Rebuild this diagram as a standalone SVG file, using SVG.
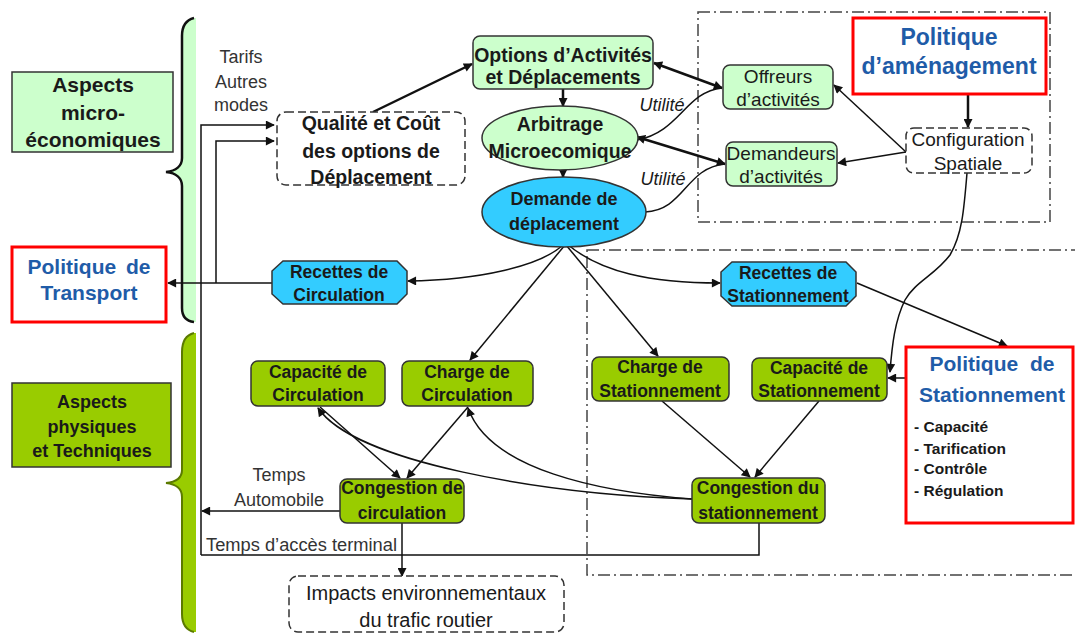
<svg xmlns="http://www.w3.org/2000/svg" width="1075" height="635" viewBox="0 0 1075 635">
<defs>
<marker id="ah" viewBox="0 0 10 10" refX="9" refY="5" markerUnits="userSpaceOnUse" markerWidth="10" markerHeight="9" orient="auto-start-reverse"><path d="M0,0 L10,5 L0,10 Z" fill="#111"/></marker>
</defs>
<style>
text{font-family:"Liberation Sans",Arial,sans-serif;fill:#1a1a1a}
.b{font-weight:bold}
.c{text-anchor:middle}
.lg{fill:#ccffcc;stroke:#333;stroke-width:1.5}
.gr{fill:#99cc00;stroke:#333;stroke-width:1.5}
.cy{fill:#33ccff;stroke:#333;stroke-width:1.5}
.red{fill:#fff;stroke:#ff0000;stroke-width:3}
.blue{fill:#1f5ca8}
.dash{fill:#fff;stroke:#333;stroke-width:1.5;stroke-dasharray:8 4}
.dd{fill:none;stroke:#444;stroke-width:1.5;stroke-dasharray:12 4 2 4}
.ln{fill:none;stroke:#111;stroke-width:1.5}
.tk{fill:none;stroke:#111;stroke-width:2.5}
.lbl{fill:#333}
</style>
<rect width="1075" height="635" fill="#fff"/>
<g id="frames">
<rect class="dd" x="698" y="12" width="352" height="210"/>
<rect class="dd" x="587" y="250" width="520" height="325"/>
</g>
<g id="braces">
<path d="M194,18 C186,20 182,26 182,36 L182,158 C182,166 176,171 166,172 C176,173 182,178 182,186 L182,308 C182,316 186,321 194,322 L196,322 L196,18 Z" fill="#ccffcc"/>
<path d="M194,18 C186,20 182,26 182,36 L182,158 C182,166 176,171 166,172 C176,173 182,178 182,186 L182,308 C182,316 186,321 194,322" fill="none" stroke="#111" stroke-width="2.5"/>
<path d="M194,333 C186,335 182,341 182,352 L182,470 C182,478 176,482 166,483 C176,484 182,489 182,497 L182,614 C182,624 186,630 194,632 L196,632 L196,333 Z" fill="#99cc00"/>
<path d="M194,333 C186,335 182,341 182,352 L182,470 C182,478 176,482 166,483 C176,484 182,489 182,497 L182,614 C182,624 186,630 194,632" fill="none" stroke="#5b7a00" stroke-width="2"/>
</g>
<g id="connectors">
<polyline class="ln" points="201,555 201,125 274,125" marker-end="url(#ah)"/>
<polyline class="ln" points="216,283 216,141 274,141" marker-end="url(#ah)"/>
<line class="ln" x1="272" y1="283" x2="168" y2="283" marker-end="url(#ah)"/>
<line class="ln" x1="340" y1="511" x2="202" y2="511" marker-end="url(#ah)"/>
<polyline class="ln" points="201,555 759,555 759,523"/>
<line class="ln" x1="402" y1="523" x2="402" y2="576" marker-end="url(#ah)"/>
<line class="tk" x1="373" y1="112" x2="472" y2="64" marker-end="url(#ah)"/>
<line class="tk" x1="563" y1="89" x2="563" y2="106" marker-end="url(#ah)"/>
<line class="tk" x1="563" y1="170" x2="563" y2="177" marker-end="url(#ah)"/>
<line class="tk" x1="654" y1="63" x2="722" y2="88" marker-start="url(#ah)" marker-end="url(#ah)"/>
<line class="tk" x1="637" y1="137" x2="725" y2="164" marker-start="url(#ah)" marker-end="url(#ah)"/>
<path class="ln" d="M637,140 C680,132 685,92 722,88"/>
<path class="ln" d="M645,212 C685,210 685,168 725,164"/>
<line class="tk" x1="968" y1="94" x2="968" y2="127" marker-end="url(#ah)"/>
<line class="ln" x1="906" y1="152" x2="834" y2="85" marker-end="url(#ah)"/>
<line class="ln" x1="906" y1="152" x2="838" y2="163" marker-end="url(#ah)"/>
<path class="ln" d="M967,173 C964,210 962,235 950,255 C935,275 915,282 905,300 C895,320 892,345 890,372" marker-end="url(#ah)"/>
<line class="ln" x1="906" y1="378" x2="888" y2="378" marker-end="url(#ah)"/>
<path class="ln" d="M563,245 C540,266 480,280 408,281" marker-end="url(#ah)"/>
<line class="ln" x1="565" y1="245" x2="470" y2="360" marker-end="url(#ah)"/>
<line class="ln" x1="566" y1="245" x2="658" y2="356" marker-end="url(#ah)"/>
<path class="ln" d="M567,244 C600,272 650,283 720,283" marker-end="url(#ah)"/>
<line class="ln" x1="857" y1="283" x2="1007" y2="346" marker-end="url(#ah)"/>
<line class="ln" x1="662" y1="401" x2="750" y2="477" marker-end="url(#ah)"/>
<line class="ln" x1="819" y1="401" x2="755" y2="477" marker-end="url(#ah)"/>
<line class="ln" x1="320" y1="407" x2="400" y2="478" marker-end="url(#ah)"/>
<line class="ln" x1="468" y1="407" x2="407" y2="478" marker-end="url(#ah)"/>
<path class="ln" d="M692,499 C600,492 490,470 468,408" marker-end="url(#ah)"/>
<path class="ln" d="M692,499 C540,494 355,462 318,408" marker-end="url(#ah)"/>
<text class="c lbl" x="241" y="63" font-size="18">Tarifs</text>
<text class="c lbl" x="241" y="88" font-size="18">Autres</text>
<text class="c lbl" x="241" y="111" font-size="18">modes</text>
<text class="c" x="662" y="111" font-size="18" font-style="italic">Utilité</text>
<text class="c" x="663" y="185" font-size="18" font-style="italic">Utilité</text>
<text class="c lbl" x="279" y="481" font-size="18">Temps</text>
<text class="c lbl" x="279" y="506" font-size="18">Automobile</text>
<text class="lbl" x="206" y="551" font-size="18.3">Temps d’accès terminal</text>
</g>
<g id="n-aspects-micro">
<rect class="lg" x="12" y="72" width="161" height="80"/>
<text class="b c" x="93" y="92" font-size="21">Aspects</text>
<text class="b c" x="93" y="120" font-size="21">micro-</text>
<text class="b c" x="93" y="147" font-size="21">économiques</text>
</g>
<g id="n-pol-transport">
<rect class="red" x="12" y="247" width="154" height="75"/>
<text class="b c blue" x="89" y="274" font-size="21" word-spacing="4">Politique de</text>
<text class="b c blue" x="89" y="300" font-size="21">Transport</text>
</g>
<g id="n-aspects-phys">
<rect class="gr" x="12" y="383" width="159" height="84"/>
<text class="b c" x="92" y="408" font-size="18">Aspects</text>
<text class="b c" x="92" y="433" font-size="18">physiques</text>
<text class="b c" x="92" y="457" font-size="18">et Techniques</text>
</g>
<g id="n-qualite">
<rect class="dash" x="277" y="112" width="188" height="73" rx="9"/>
<text class="b c" x="371" y="130" font-size="19.5">Qualité et Coût</text>
<text class="b c" x="371" y="158" font-size="19.5">des options de</text>
<text class="b c" x="371" y="184" font-size="19.5">Déplacement</text>
</g>
<g id="n-options">
<rect class="lg" x="473" y="36" width="180" height="53" rx="7"/>
<text class="b c" x="563" y="61.5" font-size="19.5">Options d’Activités</text>
<text class="b c" x="563" y="83.5" font-size="19.5">et Déplacements</text>
</g>
<g id="n-arbitrage">
<ellipse class="lg" cx="560" cy="138" rx="78" ry="32"/>
<text class="b c" x="560" y="131" font-size="19.5">Arbitrage</text>
<text class="b c" x="560" y="158" font-size="19.5">Microecomique</text>
</g>
<g id="n-demande">
<ellipse class="cy" cx="564" cy="212" rx="82" ry="35"/>
<text class="b c" x="564" y="205" font-size="18">Demande de</text>
<text class="b c" x="564" y="230" font-size="18">déplacement</text>
</g>
<g id="n-offreurs">
<rect class="lg" x="723" y="65" width="110" height="44" rx="7"/>
<text class="c" x="778" y="83" font-size="19">Offreurs</text>
<text class="c" x="778" y="106" font-size="19">d’activités</text>
</g>
<g id="n-demandeurs">
<rect class="lg" x="726" y="142" width="111" height="44" rx="7"/>
<text class="c" x="781" y="160" font-size="19">Demandeurs</text>
<text class="c" x="781" y="183" font-size="19">d’activités</text>
</g>
<g id="n-pol-amenag">
<rect class="red" x="853" y="18" width="193" height="76"/>
<text class="b c blue" x="949" y="45" font-size="23">Politique</text>
<text class="b c blue" x="949" y="74" font-size="23">d’aménagement</text>
</g>
<g id="n-config">
<rect class="dash" x="906" y="128" width="126" height="45" rx="8"/>
<text class="c" x="968" y="146" font-size="19">Configuration</text>
<text class="c" x="968" y="170" font-size="19">Spatiale</text>
</g>
<g id="n-rec-circ">
<polygon class="cy" points="283,261 397,261 407,271 407,294 397,304 283,304 272,294 272,271"/>
<text class="b c" x="339" y="278" font-size="17.5">Recettes de</text>
<text class="b c" x="339" y="301" font-size="17.5">Circulation</text>
</g>
<g id="n-rec-stat">
<polygon class="cy" points="732,262 846,262 856,272 856,296 846,306 732,306 721,296 721,272"/>
<text class="b c" x="788" y="279" font-size="17.5">Recettes de</text>
<text class="b c" x="788" y="302" font-size="17.5">Stationnement</text>
</g>
<g id="n-cap-circ">
<rect class="gr" x="251" y="361" width="134" height="45" rx="7"/>
<text class="b c" x="318" y="378" font-size="17.5">Capacité de</text>
<text class="b c" x="318" y="401" font-size="17.5">Circulation</text>
</g>
<g id="n-charge-circ">
<rect class="gr" x="402" y="361" width="131" height="45" rx="7"/>
<text class="b c" x="467" y="378" font-size="17.5">Charge de</text>
<text class="b c" x="467" y="401" font-size="17.5">Circulation</text>
</g>
<g id="n-charge-stat">
<rect class="gr" x="592" y="357" width="137" height="44" rx="7"/>
<text class="b c" x="660" y="373" font-size="17.5">Charge de</text>
<text class="b c" x="660" y="397" font-size="17.5">Stationnement</text>
</g>
<g id="n-cap-stat">
<rect class="gr" x="752" y="358" width="135" height="43" rx="7"/>
<text class="b c" x="819" y="374" font-size="17.5">Capacité de</text>
<text class="b c" x="819" y="397" font-size="17.5">Stationnement</text>
</g>
<g id="n-pol-stat">
<rect class="red" x="906" y="347" width="167" height="176"/>
<text class="b c blue" x="992" y="371" font-size="21" word-spacing="6">Politique de</text>
<text class="b c blue" x="992" y="402" font-size="21">Stationnement</text>
<text class="b" x="914" y="432" font-size="15.5">- Capacité</text>
<text class="b" x="914" y="454" font-size="15.5">- Tarification</text>
<text class="b" x="914" y="474" font-size="15.5">- Contrôle</text>
<text class="b" x="914" y="496" font-size="15.5">- Régulation</text>
</g>
<g id="n-cong-circ">
<rect class="gr" x="340" y="479" width="124" height="44" rx="7"/>
<text class="b c" x="402" y="494" font-size="17.5">Congestion de</text>
<text class="b c" x="402" y="519" font-size="17.5">circulation</text>
</g>
<g id="n-cong-stat">
<rect class="gr" x="692" y="478" width="133" height="45" rx="7"/>
<text class="b c" x="758" y="494" font-size="17.5">Congestion du</text>
<text class="b c" x="758" y="519" font-size="17.5">stationnement</text>
</g>
<g id="n-impacts">
<rect class="dash" x="289" y="576" width="275" height="56" rx="9"/>
<text class="c" x="426" y="600" font-size="20">Impacts environnementaux</text>
<text class="c" x="426" y="627" font-size="20">du trafic routier</text>
</g>
</svg>
